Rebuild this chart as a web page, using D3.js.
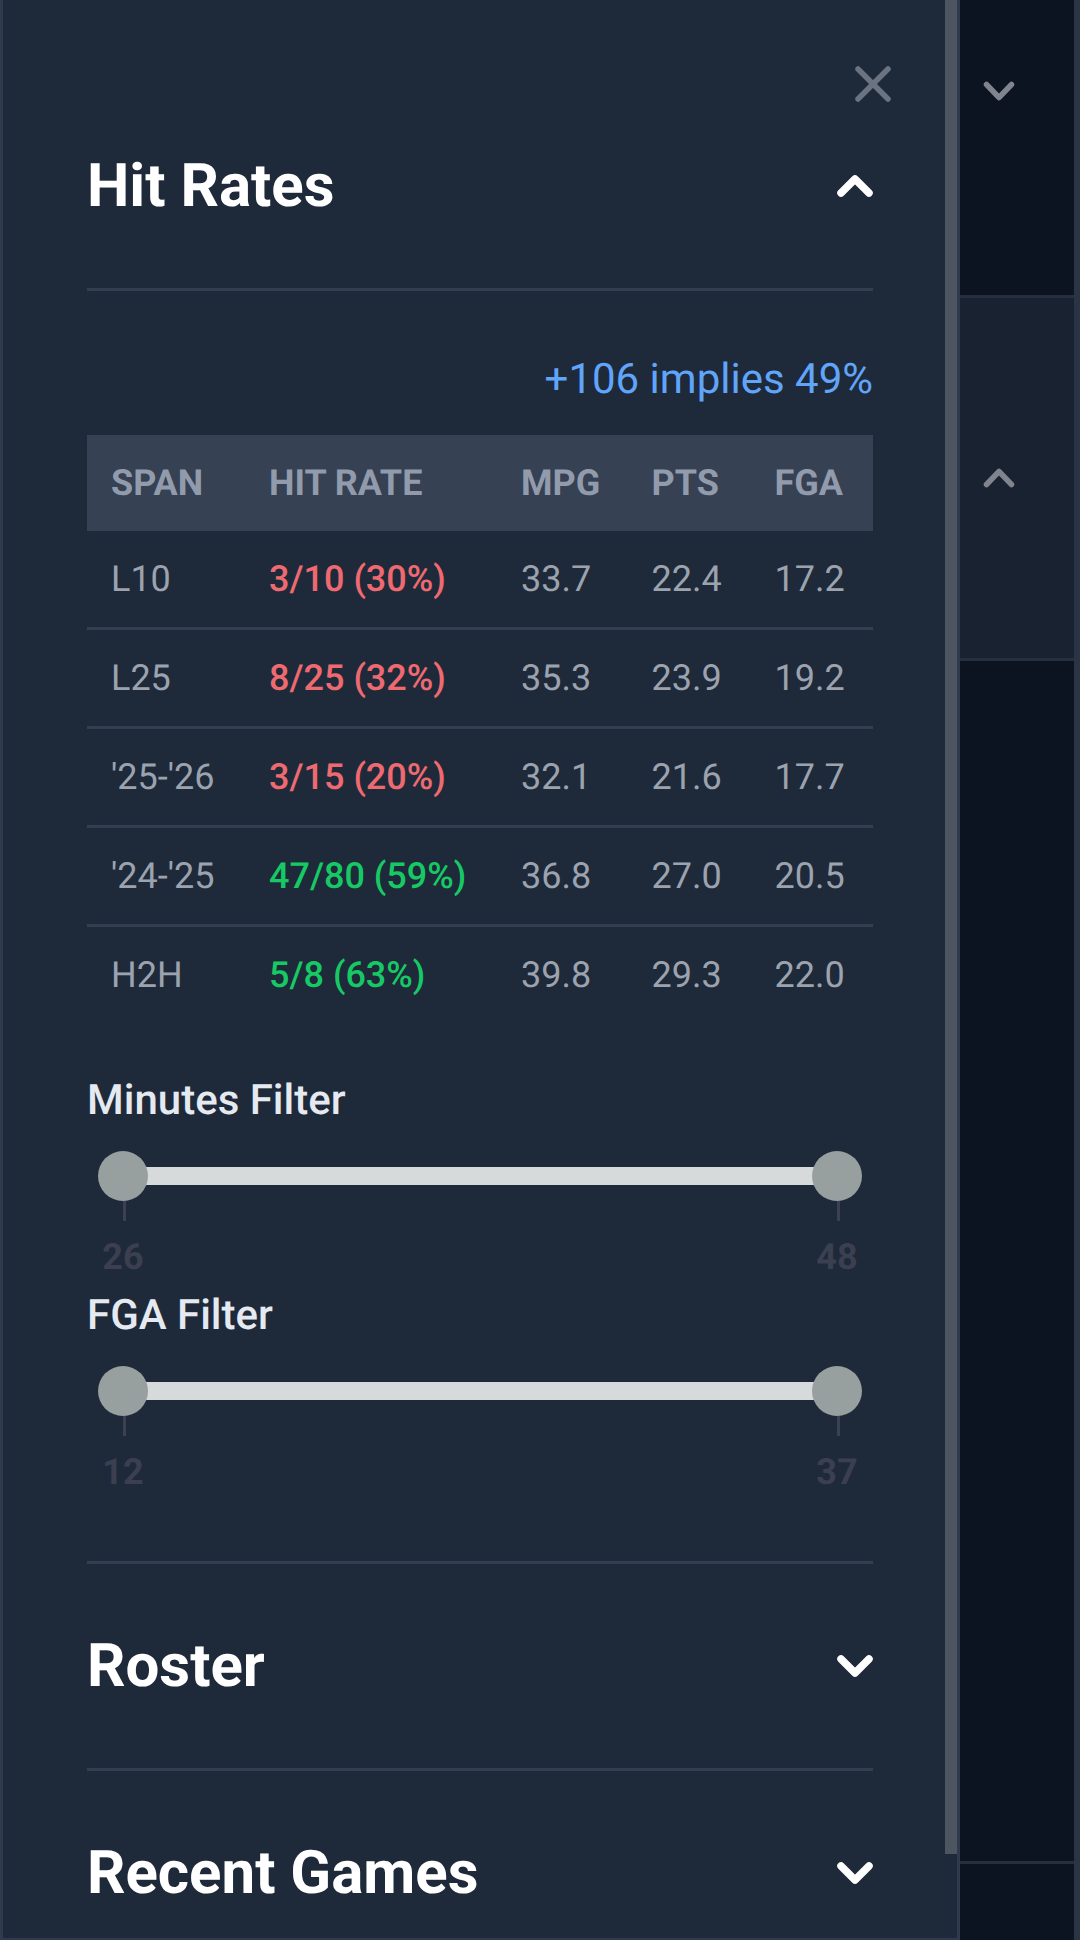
<!DOCTYPE html>
<html>
<head>
<meta charset="utf-8">
<script src="https://cdn.jsdelivr.net/npm/d3@7"></script>
<style>
  html, body { margin: 0; padding: 0; background: #0b1420; }
  svg { display: block; font-family: Roboto, sans-serif; text-rendering: geometricPrecision; }
</style>
</head>
<body>
<svg id="chart" width="1080" height="1940"></svg>
<script>
const columns = ['SPAN', 'HIT RATE', 'MPG', 'PTS', 'FGA'];
const spans = ['L10', 'L25', "'25-'26", "'24-'25", 'H2H'];
const hits = [3, 8, 3, 47, 5];
const games = [10, 25, 15, 80, 8];
const pcts = [30, 32, 20, 59, 63];
const mpg = ['33.7', '35.3', '32.1', '36.8', '39.8'];
const pts = ['22.4', '23.9', '21.6', '27.0', '29.3'];
const fga = ['17.2', '19.2', '17.7', '20.5', '22.0'];
const impliedOdds = '+106';
const impliedPct = 49;
const minutesRange = [26, 48];
const fgaRange = [12, 37];

const svg = d3.select('#chart');
const white = '#ffffff';
const line = '#333e50';
const panel = '#1e2a3a';

function rect(x, y, w, h, fill) {
  svg.append('rect').attr('x', x).attr('y', y).attr('width', w).attr('height', h).attr('fill', fill);
}

function label(x, y, str, size, weight, fill, anchor = 'start') {
  return svg.append('text')
    .attr('x', x).attr('y', y)
    .attr('font-size', size)
    .attr('font-weight', weight)
    .attr('fill', fill)
    .attr('text-anchor', anchor)
    .text(str);
}

function chevron(cx, cy, up, color, w, h, sw) {
  const dir = up ? -1 : 1;
  svg.append('path')
    .attr('d', `M${cx - w},${cy - dir * h}L${cx},${cy + dir * h}L${cx + w},${cy - dir * h}`)
    .attr('fill', 'none')
    .attr('stroke', color)
    .attr('stroke-width', sw)
    .attr('stroke-linecap', 'round')
    .attr('stroke-linejoin', 'round');
}

// background blocks
rect(0, 0, 1080, 1940, '#0b1420');
rect(960, 298, 114, 360, '#192231');
rect(960, 295, 114, 3, '#262f3f');
rect(960, 658, 114, 3, '#262f3f');
rect(960, 1861, 114, 3, '#262f3f');
rect(1074, 0, 6, 1940, '#2a3445');
rect(0, 0, 960, 1940, panel);
rect(0, 0, 3, 1940, '#2f3a4d');
rect(957, 0, 3, 1940, '#2f3a4d');
rect(0, 1938, 960, 2, '#2f3a4d');
rect(945, 0, 12, 1854, '#4d5561');

// close button
svg.append('path')
  .attr('d', 'M858,69L888,99M888,69L858,99')
  .attr('stroke', '#6b7280')
  .attr('stroke-width', 5.5)
  .attr('stroke-linecap', 'round');

// right hand strip chevrons
chevron(999, 91, false, '#80848e', 12.5, 6.5, 5.5);
chevron(999, 478, true, '#80848e', 12.5, 6.5, 5.5);

// section heads
label(87, 206, 'Hit Rates', 60, 700, white);
chevron(855, 186, true, white, 14, 7, 7.5);
rect(87, 288, 786, 3, line);
rect(87, 1561, 786, 3, line);
rect(87, 1768, 786, 3, line);
label(87, 1686, 'Roster', 60, 700, white);
chevron(855, 1666, false, white, 14, 7, 7.5);
label(87, 1893, 'Recent Games', 60, 700, white);
chevron(855, 1873, false, white, 14, 7, 7.5);

label(873, 393, `${impliedOdds} implies ${impliedPct}%`, 42, 400, '#60a5fa', 'end');

// table
const x = d3.scaleOrdinal().domain(columns).range([111, 269, 521, 651.5, 774.5]);
const y = d3.scalePoint().domain(spans).range([578, 974]);

rect(87, 435, 786, 96, '#364154');
svg.append('g').selectAll('text').data(columns).join('text')
  .attr('x', d => x(d))
  .attr('y', 495)
  .attr('font-size', 36)
  .attr('font-weight', 700)
  .attr('fill', '#929bac')
  .text(d => d);

const rows = spans.map((s, i) => ({
  span: s,
  rate: `${hits[i]}/${games[i]} (${pcts[i]}%)`,
  over: pcts[i] > impliedPct,
  cells: [mpg[i], pts[i], fga[i]]
}));

svg.append('g').selectAll('rect').data(spans.slice(1)).join('rect')
  .attr('x', 87)
  .attr('y', d => y(d) - 50)
  .attr('width', 786)
  .attr('height', 3)
  .attr('fill', line);

const row = svg.append('g').selectAll('g').data(rows).join('g')
  .attr('transform', d => `translate(0,${y(d.span) + 12.5})`)
  .attr('font-size', 36);

row.append('text').attr('x', x('SPAN')).attr('fill', '#9ca3af').text(d => d.span);
row.append('text').attr('x', x('HIT RATE')).attr('font-weight', 500)
  .attr('fill', d => d.over ? '#17c964' : '#ee6a70').text(d => d.rate);
['MPG', 'PTS', 'FGA'].forEach((c, j) => {
  row.append('text').attr('x', x(c)).attr('fill', '#9ca3af').text(d => d.cells[j]);
});

// sliders
function slider(name, range, top) {
  const s = d3.scaleLinear().domain(range).range([123, 837]);
  const g = svg.append('g');
  g.append('text').attr('x', 87).attr('y', top + 1).attr('font-size', 42).attr('font-weight', 500)
    .attr('fill', '#e5e9f0').text(name);
  const cy = top + 63;
  g.append('rect').attr('x', s(range[0])).attr('y', cy - 9)
    .attr('width', s(range[1]) - s(range[0])).attr('height', 18).attr('fill', '#d6dadb');
  const ends = g.selectAll('g').data(range).join('g');
  ends.append('line')
    .attr('x1', d => s(d) + 1.5).attr('x2', d => s(d) + 1.5)
    .attr('y1', cy + 24).attr('y2', cy + 45)
    .attr('stroke', '#3b4052').attr('stroke-width', 3);
  ends.append('circle').attr('cx', d => s(d)).attr('cy', cy).attr('r', 25).attr('fill', '#979f9f');
  ends.append('text').attr('x', d => s(d)).attr('y', cy + 93)
    .attr('text-anchor', 'middle').attr('font-size', 36).attr('font-weight', 700)
    .attr('fill', '#3b3f50').text(d => d);
}
slider('Minutes Filter', minutesRange, 1113);
slider('FGA Filter', fgaRange, 1328);
</script>
</body>
</html>
